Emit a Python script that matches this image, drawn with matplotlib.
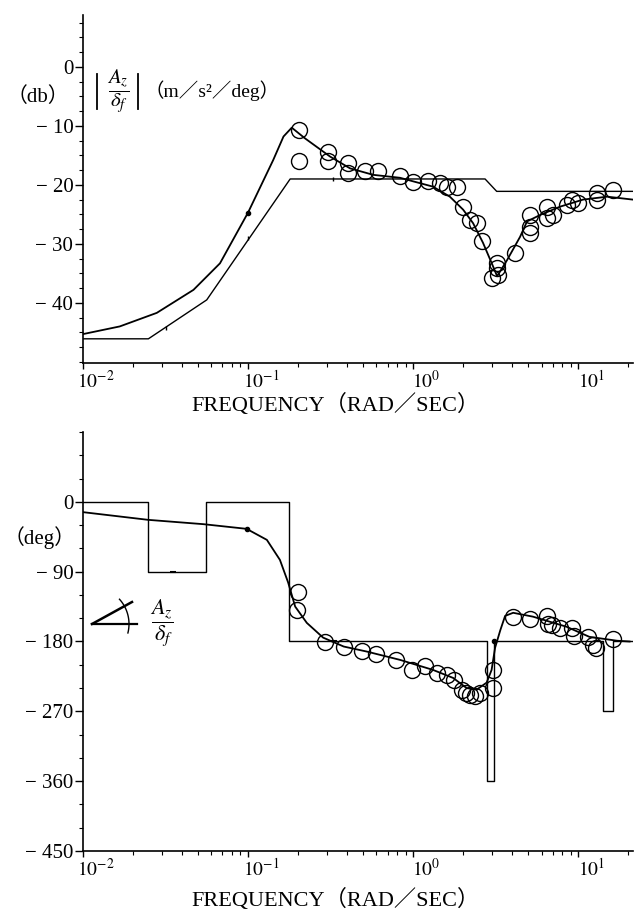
import numpy as np
import matplotlib
matplotlib.use("Agg")
import matplotlib.pyplot as plt
import matplotlib.transforms as mtransforms
from matplotlib.lines import Line2D
from matplotlib.ticker import FixedLocator, LogLocator, NullFormatter

plt.rcParams["font.family"] = ["Liberation Serif", "Noto Sans CJK JP", "DejaVu Serif"]
plt.rcParams["mathtext.fontset"] = "stix"

# --- Gain (db) ---
mag_fit_f = [0.0100, 0.0167, 0.0280, 0.0467, 0.0676, 0.100, 0.142, 0.164, 0.184,
             0.221, 0.314, 0.415, 0.573, 0.834, 1.00, 1.32, 1.67, 2.01, 2.31,
             2.65, 3.05, 3.23, 3.72, 4.45, 4.90, 5.89, 7.76, 10.7, 15.0, 21.5]
mag_fit_db = [-45.3, -44.0, -41.7, -37.8, -33.3, -24.7, -15.8, -11.8, -10.3,
              -12.1, -15.2, -17.2, -18.3, -18.8, -19.4, -20.3, -22.0, -24.2, -26.5,
              -29.8, -33.8, -35.5, -32.7, -28.8, -26.2, -25.1, -23.7, -22.5, -22.0, -22.5]

mag_asym_f = [0.0100, 0.0249, 0.0562, 0.180, 2.73, 3.21, 21.5]
mag_asym_db = [-46.1, -46.1, -39.5, -19.0, -19.0, -21.1, -21.1]

mag_meas_f = [0.204, 0.204, 0.305, 0.305, 0.404, 0.404, 0.513, 0.610, 0.834, 1.00,
              1.23, 1.46, 1.60, 1.84, 2.01, 2.21, 2.43, 2.61, 3.21, 3.21, 2.99, 3.27,
              4.15, 5.12, 5.12, 5.12, 6.46, 6.46, 7.08, 8.51, 9.14, 10.0, 13.0, 13.0, 16.3]
mag_meas_db = [-10.7, -15.9, -14.4, -15.9, -16.3, -18.0, -17.6, -17.7, -18.5, -19.5,
               -19.4, -19.7, -20.3, -20.3, -23.7, -25.9, -26.5, -29.6, -33.3, -34.1, -35.8, -35.3,
               -31.6, -25.1, -27.1, -28.2, -23.7, -25.6, -25.1, -23.4, -22.5, -23.1, -21.4, -22.5, -20.8]

# --- Phase (deg) ---
ph_fit_f = [0.0100, 0.0248, 0.0537, 0.098, 0.130, 0.156, 0.175, 0.193, 0.227, 0.285,
            0.380, 0.525, 0.834, 1.32, 1.75, 2.11, 2.43, 2.79, 2.99, 3.14, 3.37, 3.61,
            4.04, 5.33, 8.51, 11.7, 17.2, 20.5]
ph_fit_deg = [-13.3, -23.2, -28.8, -34.8, -49.0, -74.8, -104.0, -135.0, -156.0, -175.0,
              -186.5, -193.0, -203.7, -216.6, -227.0, -240.0, -242.0, -233.0, -216.6, -188.0,
              -166.0, -147.0, -143.0, -148.0, -161.0, -174.0, -179.0, -180.0]

ph_asym_f = [0.0100, 0.0249, 0.0556, 0.178, 2.79, 3.09, 14.1, 16.2, 21.5]
ph_asym_deg = [0, -90, 0, -180, -360, -180, -270, -180, -180]

ph_meas_f = [0.200, 0.197, 0.293, 0.380, 0.489, 0.597, 0.785, 0.984, 1.18, 1.39, 1.60,
             1.76, 1.97, 2.08, 2.21, 2.38, 2.55, 3.05, 3.05, 4.04, 5.12, 6.46, 6.61,
             6.92, 7.76, 9.12, 9.44, 11.5, 12.3, 12.9, 16.2]
ph_meas_deg = [-116, -140, -181, -187, -191.7, -196.4, -203.7, -216.6, -212, -220.7, -223,
               -229.5, -242.4, -246, -248.8, -250, -246, -216.6, -240, -149, -151, -147, -157,
               -158.6, -162.5, -162, -173, -173.6, -184, -188, -177]

W, H = 636, 918
fig = plt.figure(figsize=(W / 100, H / 100), dpi=100)


def px(x, y):
    return x / W, 1 - y / H


def line_px(pts, lw):
    fig.add_artist(Line2D([p[0] / W for p in pts], [1 - p[1] / H for p in pts],
                          color="black", lw=lw, transform=fig.transFigure))


def style_axis(ax):
    ax.set_xscale("log")
    ax.set_xlim(0.01, 21.5)
    ax.spines["top"].set_visible(False)
    ax.spines["right"].set_visible(False)
    ax.spines["left"].set_linewidth(1.2)
    ax.spines["bottom"].set_linewidth(1.2)
    ax.set_xticks([0.01, 0.1, 1, 10])
    ax.set_xticklabels([r"$10^{-2}$", r"$10^{-1}$", r"$10^{0}$", r"$10^{1}$"], fontsize=14)
    ax.xaxis.set_minor_locator(LogLocator(base=10, subs=np.arange(2, 10), numticks=20))
    ax.xaxis.set_minor_formatter(NullFormatter())
    ax.tick_params(axis="x", which="major", direction="out", length=4, width=1, pad=1)
    ax.tick_params(axis="x", which="minor", direction="out", length=3, width=0.8)
    ax.tick_params(axis="y", which="major", direction="out", length=6, width=1, pad=1, labelsize=15)
    ax.tick_params(axis="y", which="minor", direction="out", length=3, width=0.8)
    offset = mtransforms.ScaledTranslation(0.13, 0, fig.dpi_scale_trans)
    for lab in ax.get_xticklabels():
        lab.set_transform(lab.get_transform() + offset)


# ---------------- top: gain ----------------
ax1 = fig.add_axes([83 / W, 1 - 363 / H, 550 / W, 348 / H])
ax1.plot(mag_fit_f, mag_fit_db, color="black", lw=1.3)
ax1.plot(mag_asym_f, mag_asym_db, color="black", lw=1.0)
ax1.plot(mag_meas_f, mag_meas_db, "o", mfc="none", mec="black", mew=1.0, ms=11.5)
ax1.plot([0.1], [-24.7], "o", color="black", ms=3)
ax1.plot([0.0318, 0.1, 0.327], [-44.2, -29.0, -19.0], "|", color="black", ms=3, mew=1)
style_axis(ax1)
ax1.set_ylim(-50.2, 8.8)
ax1.set_yticks([0, -10, -20, -30, -40])
ax1.set_yticklabels(["0", "− 10", "− 20", "− 30", "− 40"])
ax1.yaxis.set_minor_locator(FixedLocator(np.arange(-50, 9, 2.5)))

fig.text(*px(38, 97), "（db）", fontsize=15, ha="center", va="center")
fig.text(*px(118, 91), r"$\dfrac{A_z}{\delta_f}$", fontsize=15, ha="center", va="center")
line_px([(97, 74), (97, 109)], 1.3)
line_px([(138, 74), (138, 109)], 1.3)
fig.text(*px(212, 91), "（m／s²／deg）", fontsize=14, ha="center", va="center")
fig.text(*px(335, 405), "FREQUENCY（RAD／SEC）", fontsize=16, ha="center", va="center")

# ---------------- bottom: phase ----------------
ax2 = fig.add_axes([83 / W, 1 - 851 / H, 550 / W, 419 / H])
ax2.plot(ph_fit_f, ph_fit_deg, color="black", lw=1.3)
ax2.plot(ph_asym_f, ph_asym_deg, color="black", lw=1.0, drawstyle="steps-post")
ax2.plot(ph_meas_f, ph_meas_deg, "o", mfc="none", mec="black", mew=1.0, ms=11.5)
ax2.plot([0.098, 3.1], [-34.8, -180], "o", color="black", ms=3)
ax2.plot([0.035, 0.33], [-90, -180], "_", color="black", ms=4, mew=1.5)
style_axis(ax2)
ax2.set_ylim(-450, 90)
ax2.set_yticks([0, -90, -180, -270, -360, -450])
ax2.set_yticklabels(["0", "− 90", "− 180", "− 270", "− 360", "− 450"])
ax2.yaxis.set_minor_locator(FixedLocator(np.arange(-450, 91, 30)))

fig.text(*px(40, 538), "（deg）", fontsize=15, ha="center", va="center")
fig.text(*px(162, 623), r"$\dfrac{A_z}{\delta_f}$", fontsize=16, ha="center", va="center")
fig.text(*px(335, 900), "FREQUENCY（RAD／SEC）", fontsize=16, ha="center", va="center")

# angle symbol
vx, vy = 92, 624
line_px([(vx, vy), (137, vy)], 1.6)
line_px([(vx, vy), (132, 602)], 1.8)
t = np.radians(np.linspace(-14, 42, 30))
line_px(list(zip(vx + 37 * np.cos(t), vy - 37 * np.sin(t))), 1.0)

fig.savefig("out.png", dpi=100)
